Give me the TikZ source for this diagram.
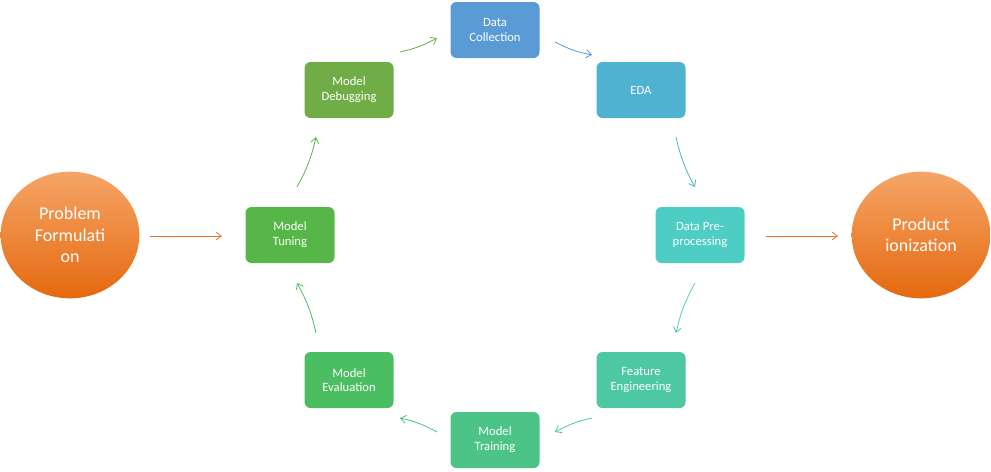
\documentclass[tikz,border=0pt]{standalone}
\usepackage{fontspec}
\setmainfont{Carlito}
\usetikzlibrary{shapes.geometric,arrows.meta}
\begin{document}
\begin{tikzpicture}[x=0.75pt,y=-0.75pt,
  box/.style={rectangle,rounded corners=4.5pt,minimum width=66.75pt,minimum height=42pt,inner sep=1pt,align=center,text=white,font=\fontsize{9.5}{11}\selectfont},
  ball/.style={ellipse,minimum width=104pt,minimum height=95pt,inner sep=0pt,align=center,text=white,font=\fontsize{13.5}{16}\selectfont,top color=oTop,bottom color=oBot,draw=none},
  arr/.style={-{Straight Barb[length=4pt,width=6pt]},line width=0.6pt}]
\definecolor{cDC}{HTML}{5B9BD5}
\definecolor{cEDA}{HTML}{4FB2D0}
\definecolor{cPP}{HTML}{4ECDC4}
\definecolor{cFE}{HTML}{4DC8A2}
\definecolor{cMT}{HTML}{4CC387}
\definecolor{cME}{HTML}{4BBE62}
\definecolor{cTU}{HTML}{56B748}
\definecolor{cDB}{HTML}{70AD47}
\definecolor{oTop}{HTML}{F5A567}
\definecolor{oBot}{HTML}{E5690F}
\definecolor{oArr}{HTML}{E8742A}
\useasboundingbox (0,0) rectangle (991,471);
\node[box,fill=cDC] (dc) at (495,30) {Data\\Collection};
\node[box,fill=cEDA] (eda) at (641,90) {EDA};
\node[box,fill=cPP] (pp) at (700,235) {Data Pre-\\processing};
\node[box,fill=cFE] (fe) at (641,380) {Feature\\Engineering};
\node[box,fill=cMT] (mt) at (495,440) {Model\\Training};
\node[box,fill=cME] (me) at (349,380) {Model\\Evaluation};
\node[box,fill=cTU] (tu) at (290,235) {Model\\Tuning};
\node[box,fill=cDB] (db) at (349,90) {Model\\Debugging};
\node[ball] (pf) at (70,235) {Problem\\Formulati\\on};
\node[ball] (pr) at (921,235) {Product\\ionization};
\coordinate (a1) at (400,52); \coordinate (b1) at (437,38);
\coordinate (a2) at (555,42); \coordinate (b2) at (592,55);
\coordinate (a3) at (676,137); \coordinate (b3) at (695,187);
\coordinate (a4) at (695,283); \coordinate (b4) at (676,333);
\coordinate (a5) at (592,418); \coordinate (b5) at (555,432);
\coordinate (a6) at (437,432); \coordinate (b6) at (400,418);
\coordinate (a7) at (316,333); \coordinate (b7) at (297,283);
\coordinate (a8) at (297,187); \coordinate (b8) at (316,137);
\coordinate (p1) at (150,236); \coordinate (q1) at (222,236);
\coordinate (p2) at (766,236); \coordinate (q2) at (838,236);
\draw[arr,cDB] (a1) to[bend right=8] (b1);
\draw[arr,cDC] (a2) to[bend right=8] (b2);
\draw[arr,cEDA] (a3) to[bend right=8] (b3);
\draw[arr,cPP] (a4) to[bend right=8] (b4);
\draw[arr,cFE] (a5) to[bend right=8] (b5);
\draw[arr,cMT] (a6) to[bend right=8] (b6);
\draw[arr,cME] (a7) to[bend right=8] (b7);
\draw[arr,cTU] (a8) to[bend right=8] (b8);
\draw[arr,oArr] (p1) -- (q1);
\draw[arr,oArr] (p2) -- (q2);
\end{tikzpicture}
\end{document}
